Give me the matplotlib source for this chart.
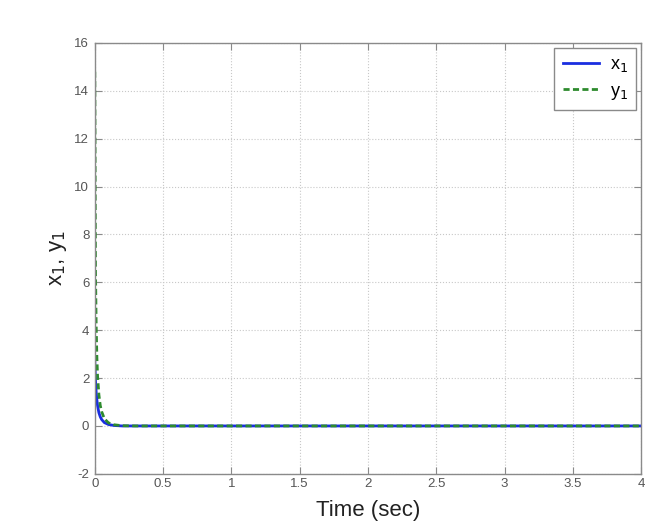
import numpy as np
import matplotlib.pyplot as plt

# values
t = [0.0, 0.005, 0.01, 0.015, 0.02, 0.03, 0.04, 0.05, 0.07, 0.1, 0.14, 0.2, 0.3, 1.0, 2.0, 3.0, 4.0]
x1 = [2.7, 1.9, 1.4, 1.1, 0.85, 0.55, 0.38, 0.27, 0.14, 0.06, 0.02, 0.0, 0.0, 0.0, 0.0, 0.0, 0.0]
y1 = [14.8, 6.5, 4.2, 2.9, 2.1, 1.3, 0.85, 0.6, 0.3, 0.13, 0.05, 0.01, 0.0, 0.0, 0.0, 0.0, 0.0]
xticks = [0, 0.5, 1, 1.5, 2, 2.5, 3, 3.5, 4]
xticklabels = ["0", "0.5", "1", "1.5", "2", "2.5", "3", "3.5", "4"]
yticks = [-2, 0, 2, 4, 6, 8, 10, 12, 14, 16]
yticklabels = ["-2", "0", "2", "4", "6", "8", "10", "12", "14", "16"]

plt.rcParams['font.family'] = ['Liberation Sans', 'DejaVu Sans']

fig = plt.figure(figsize=(6.45, 5.30), dpi=100)
ax = fig.add_axes([0.147, 0.106, 0.847, 0.813])

ax.plot(t, x1, color='#1a2ee0', lw=2.0, label='x$_1$')
ax.plot(t, y1, color='#2e8b2e', lw=2.0, ls=(0, (2.2, 1.2)), label='y$_1$')

ax.set_xlim(0, 4)
ax.set_ylim(-2, 16)
ax.set_xticks(xticks)
ax.set_xticklabels(xticklabels)
ax.set_yticks(yticks)
ax.set_yticklabels(yticklabels)

frame = '#8a8a8a'
for s in ax.spines.values():
    s.set_color(frame)
    s.set_linewidth(1.0)
ax.tick_params(direction='in', top=True, right=True, length=5, color=frame,
               labelsize=9.5, labelcolor='#555555')
ax.tick_params(axis='x', pad=3)
ax.tick_params(axis='y', pad=4)
ax.grid(True, ls=':', color='#c8c8c8', lw=0.8)

ax.set_xlabel('Time (sec)', fontsize=16, color='#222222', labelpad=7)
ax.set_ylabel('x$_1$, y$_1$', fontsize=16, color='#222222', labelpad=4)

leg = ax.legend(loc='upper right', fontsize=13, fancybox=False, framealpha=1,
                edgecolor=frame, handlelength=2.0, handletextpad=0.6,
                borderaxespad=0.3, borderpad=0.45, labelspacing=0.45)
leg.get_frame().set_linewidth(1.0)

fig.savefig('out.png', dpi=100)
